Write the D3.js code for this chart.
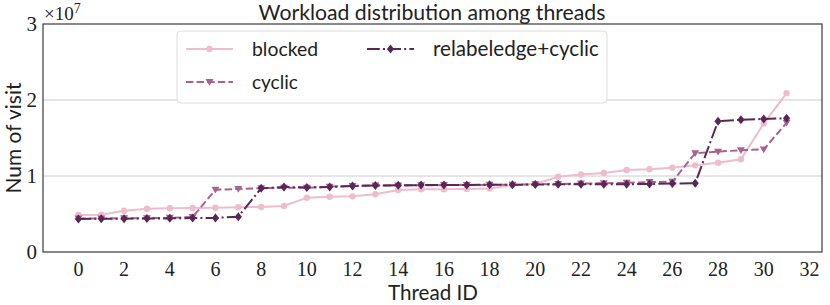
<!DOCTYPE html>
<html><head><meta charset="utf-8">
<script src="https://cdn.jsdelivr.net/npm/d3@7"></script>
<style>body{margin:0;background:#fff}svg{display:block}</style>
</head><body>
<svg id="c" width="830" height="305"></svg>
<script>
const threads = d3.range(32);
const blocked = [4.87,4.9,5.43,5.7,5.75,5.8,5.83,5.88,5.92,6.05,7.15,7.28,7.32,7.6,8.15,8.25,8.25,8.3,8.35,8.8,8.95,9.9,10.2,10.4,10.8,10.9,11.1,11.4,11.75,12.2,16.9,20.9].map(v=>v*1e6);
const cyclic = [4.4,4.42,4.43,4.45,4.5,4.6,8.2,8.3,8.4,8.45,8.45,8.6,8.7,8.75,8.75,8.78,8.8,8.8,8.85,8.85,8.9,8.95,9.0,9.05,9.1,9.2,9.25,13.0,13.2,13.4,13.5,17.0].map(v=>v*1e6);
const relabel = [4.34,4.38,4.39,4.4,4.43,4.47,4.48,4.65,8.38,8.55,8.5,8.55,8.68,8.75,8.78,8.8,8.8,8.82,8.85,8.85,8.88,8.9,8.9,8.92,8.92,8.95,9.0,9.05,17.2,17.4,17.5,17.6].map(v=>v*1e6);
const xTicks = d3.range(0,33,2);
const yTicks = [0,1e7,2e7,3e7];
const yTickLabels = ["0","1","2","3"];
const seriesNames = ["blocked","cyclic","relabeledge+cyclic"];

const svg = d3.select("#c");
const L=43,R=822,T=24,B=252;
const x = d3.scaleLinear().domain([-1.55,32.55]).range([L,R]);
const y = d3.scaleLinear().domain([0,3e7]).range([B,T]);

const series = [
  {name:seriesNames[0], data:blocked, color:"#efbccc", dash:null, marker:"circle"},
  {name:seriesNames[1], data:cyclic, color:"#a9628f", dash:"7.4,3.2", marker:"tri"},
  {name:seriesNames[2], data:relabel, color:"#5a2655", dash:"12.8,3.2,2,3.2", marker:"diamond"}
];

// grid
svg.append("g").selectAll("line").data(yTicks.slice(1,3)).join("line")
  .attr("x1",L).attr("x2",R).attr("y1",d=>y(d)).attr("y2",d=>y(d))
  .attr("stroke","#cccccc").attr("stroke-width",1);

function marker(g, type, color, cx, cy){
  if(type==="circle") g.append("circle").attr("cx",cx).attr("cy",cy).attr("r",3.2).attr("fill",color);
  else if(type==="tri") g.append("path").attr("d",`M${cx-4},${cy-3}L${cx+4},${cy-3}L${cx},${cy+3.8}Z`).attr("fill",color);
  else g.append("path").attr("d",`M${cx},${cy-4.5}L${cx+3.6},${cy}L${cx},${cy+4.5}L${cx-3.6},${cy}Z`).attr("fill",color);
}

const line = d3.line().x((d,i)=>x(threads[i])).y(d=>y(d));
series.forEach(s=>{
  const g = svg.append("g");
  g.append("path").datum(s.data).attr("d",line).attr("fill","none")
    .attr("stroke",s.color).attr("stroke-width",2).attr("stroke-dasharray",s.dash);
  s.data.forEach((v,i)=>marker(g,s.marker,s.color,x(threads[i]),y(v)));
});

// frame
svg.append("rect").attr("x",L).attr("y",T).attr("width",R-L).attr("height",B-T)
  .attr("fill","none").attr("stroke","#3a3a3a").attr("stroke-width",1.2);

// ticks
const serif = "'Liberation Serif', serif";
svg.append("g").selectAll("text").data(xTicks).join("text")
  .attr("x",d=>x(d)).attr("y",276).attr("text-anchor","middle")
  .attr("font-family",serif).attr("font-size",20).attr("fill","#222").text(d=>d);
svg.append("g").selectAll("text").data(yTicks).join("text")
  .attr("x",37).attr("y",d=>y(d)+7).attr("text-anchor","end")
  .attr("font-family",serif).attr("font-size",21).attr("fill","#222").text((d,i)=>yTickLabels[i]);
const off = svg.append("text").attr("x",44).attr("y",20).attr("font-family",serif).attr("font-size",19).attr("fill","#222");
off.append("tspan").text("×10");
off.append("tspan").attr("dy",-7).attr("font-size",14).text("7");

const sans = "Lato, sans-serif";
function fit(sel, w){ const n=sel.node(); const l=n.getComputedTextLength(); const fs=+sel.attr("font-size"); sel.attr("font-size", fs*w/l); }

const title = svg.append("text").attr("x",432).attr("y",20).attr("text-anchor","middle")
  .attr("font-family",sans).attr("font-size",20).attr("fill","#222").text("Workload distribution among threads");
fit(title,347);
const xl = svg.append("text").attr("x",433).attr("y",300).attr("text-anchor","middle")
  .attr("font-family",sans).attr("font-size",22).attr("fill","#222").text("Thread ID");
fit(xl,90);
const yl = svg.append("text").attr("transform","translate(21,138) rotate(-90)").attr("text-anchor","middle")
  .attr("font-family",sans).attr("font-size",22).attr("fill","#222").text("Num of visit");
fit(yl,111);

// legend
const lg = svg.append("g");
lg.append("rect").attr("x",177).attr("y",31).attr("width",430).attr("height",72).attr("rx",4)
  .attr("fill","#fff").attr("fill-opacity",0.85).attr("stroke","#dddddd").attr("stroke-width",1);
const pos = [{x:186,y:49},{x:186,y:82},{x:367,y:49}];
series.forEach((s,i)=>{
  const p=pos[i];
  lg.append("line").attr("x1",p.x).attr("x2",p.x+47).attr("y1",p.y).attr("y2",p.y)
    .attr("stroke",s.color).attr("stroke-width",2).attr("stroke-dasharray",s.dash);
  marker(lg,s.marker,s.color,p.x+23.5,p.y);
  const t = lg.append("text").attr("x",p.x+66).attr("y",p.y+6.5).attr("font-family",sans)
    .attr("font-size",19).attr("fill","#222").text(s.name);
  if(i===0) fit(t,66);
  if(i===2) fit(t,166);
});
</script>
</body></html>
